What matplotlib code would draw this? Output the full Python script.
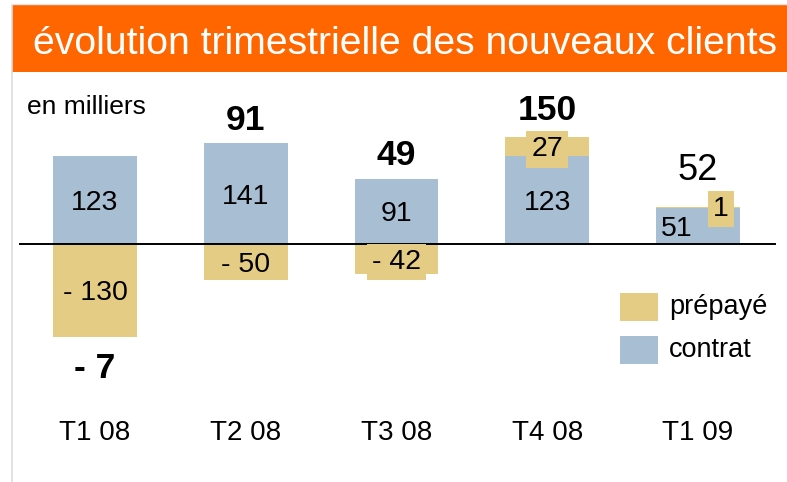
import matplotlib.pyplot as plt
import numpy as np
from matplotlib.patches import Rectangle

# Data (en milliers)
quarters = ['T1 08', 'T2 08', 'T3 08', 'T4 08', 'T1 09']
contrat = [123, 141, 91, 123, 51]
prepaye = [-130, -50, -42, 27, 1]
totals = [-7, 91, 49, 150, 52]

# style
orange = '#FF6600'
blue = '#A7BED3'
tan = '#E4CC85'
W, H = 787, 482
font = 'Liberation Sans'

fig = plt.figure(figsize=(W / 100, H / 100), dpi=100)
ax = fig.add_axes([0, 0, 1, 1])
ax.set_axis_off()

# pixel layout of the original slide
zero_px = 244
scale = 0.715          # px per thousand
x0_px, step_px = 95, 150.75
ax.set_xlim(-x0_px / step_px, (W - x0_px) / step_px)
ax.set_ylim(-(H - zero_px) / scale, zero_px / scale)

def fy(px):
    # figure fraction from pixel row (top origin)
    return 1 - px / H

x = np.arange(len(quarters))
width = 0.557

ax.bar(x, contrat, width, color=blue, zorder=2)
pos_bottom = [c if p > 0 else 0 for c, p in zip(contrat, prepaye)]
ax.bar(x, prepaye, width, bottom=pos_bottom, color=tan, zorder=2)

ax.axhline(0, xmin=20 / W, xmax=775 / W, color='black', lw=1.4, zorder=3)

# contrat values
for i, c in enumerate(contrat):
    dx = -0.14 if 0 < prepaye[i] < 5 else 0
    ax.text(i + dx, c / 2, str(c), ha='center', va='center_baseline',
            fontsize=20.5, family=font, zorder=4)

# prepaye values, boxed where the label sticks out of its bar
boxed = [False, False, True, True, True]
for i, (c, p) in enumerate(zip(contrat, prepaye)):
    lab = f'- {abs(p)}' if p < 0 else str(p)
    if 0 < p < 5:
        xi, yi = i + 0.15, c + p + 1
    elif p > 0:
        xi, yi = i, c + p / 2
    else:
        xi, yi = i, p / 2
    bb = dict(boxstyle='square,pad=0.18', fc=tan, ec='none') if boxed[i] else None
    ax.text(xi, yi, lab, ha='center', va='center_baseline', fontsize=20.5,
            family=font, zorder=5, bbox=bb)

# totals
tot_off = [28, 26, 27, 30, 40]   # px from the end of the stack
for i, t in enumerate(totals):
    lab = f'- {abs(t)}' if t < 0 else str(t)
    if t < 0:
        end = min(contrat[i] + min(prepaye[i], 0), prepaye[i])
        off = -tot_off[i]
    else:
        end = max(contrat[i], pos_bottom[i] + max(prepaye[i], 0))
        off = tot_off[i]
    ax.annotate(lab, xy=(i, end), xytext=(0, off * 0.72), textcoords='offset points',
                ha='center', va='center_baseline', fontsize=26 if i == 4 else 25.5,
                fontweight='normal' if i == 4 else 'bold', family=font)

# category labels
for i, q in enumerate(quarters):
    ax.text(i, fy(440), q, transform=ax.get_xaxis_transform(), ha='center',
            va='baseline', fontsize=20, family=font)

# banner + frame lines
fig.patches.append(Rectangle((12 / W, fy(72)), 1 - 12 / W, (72 - 5) / H,
                             transform=fig.transFigure, fc=orange, ec='none', zorder=1))
fig.lines.append(plt.Line2D([12 / W, 12 / W], [0, fy(5)], transform=fig.transFigure,
                            color='#dddddd', lw=1.2))
fig.lines.append(plt.Line2D([12 / W, 1], [fy(4), fy(4)], transform=fig.transFigure,
                            color='#e6e6e6', lw=1))
fig.text(33 / W, fy(54), 'évolution trimestrielle des nouveaux clients', color='white',
         fontsize=28.2, family=font, va='baseline', ha='left', zorder=2)

fig.text(27 / W, fy(114), 'en milliers', fontsize=19, family=font, va='baseline')

# legend
for (y_px, col, lab) in [(293, tan, 'prépayé'), (336, blue, 'contrat')]:
    fig.patches.append(Rectangle((620 / W, fy(y_px + 28)), 38 / W, 28 / H,
                                 transform=fig.transFigure, fc=col, ec='none'))
    fig.text(669 / W, fy(y_px + 14), lab, fontsize=19.5, family=font, va='center')

fig.savefig('out.png', dpi=100)
